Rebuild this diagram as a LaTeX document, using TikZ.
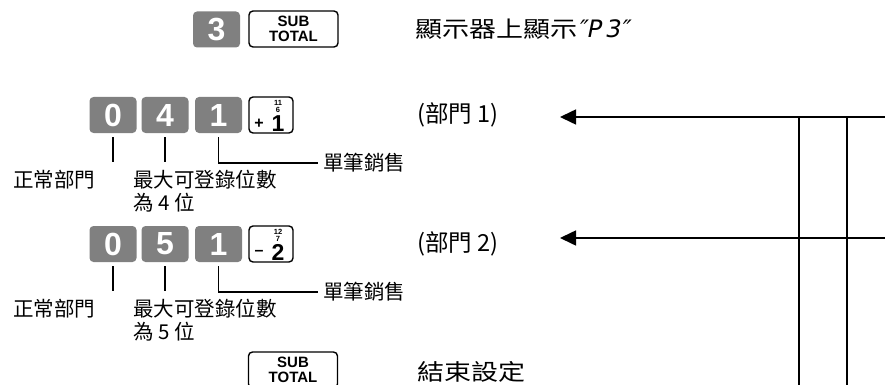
\documentclass[tikz,border=0pt]{standalone}
\usepackage{fontspec}
\usepackage{tikz}
\usetikzlibrary{arrows.meta}
\newfontfamily\cjk{Noto Sans CJK TC}
\newfontfamily\cjkwide[FakeStretch=1.2]{Noto Sans CJK TC}
\newfontfamily\keyfont{Liberation Sans}
\newfontfamily\segfont[FakeSlant=0.2]{DejaVu Sans}
\definecolor{keygray}{RGB}{128,128,128}

\tikzset{
  numkey/.style={fill=keygray, rounded corners=4pt, minimum width=47pt, minimum height=36pt,
    inner sep=0pt, text=white, font=\keyfont\bfseries\fontsize{32}{32}\selectfont},
  subkey/.style={draw, line width=1.4pt, rounded corners=4pt, minimum width=89pt, minimum height=36pt,
    inner sep=0pt, align=center, font=\keyfont\bfseries\fontsize{15}{15}\selectfont},
  deptbox/.style={draw, line width=1.4pt, rounded corners=4pt, minimum width=44pt, minimum height=36pt, inner sep=0pt},
  keymark/.style={inner sep=0pt, align=center, font=\keyfont\bfseries\fontsize{7.5}{7}\selectfont},
  note/.style={inner sep=0pt, anchor=west, font=\cjk\fontsize{20.5}{23}\selectfont},
  heading/.style={inner sep=0pt, anchor=west, font=\cjkwide\fontsize{22.5}{24}\selectfont},
  lead/.style={line width=1.6pt},
  feed/.style={line width=1.6pt, -{Triangle[length=16pt,width=15pt]}},
}

% department key: name, position, small numbers, sign, digit
\newcommand\deptkey[6]{%
  \node[deptbox] (#1) at (#2) {};
  \node[keymark] (#1-top) at ([shift={(7,-9)}]#1.center) {#3\\#4};
  \node[keymark, font=\keyfont\bfseries\fontsize{16}{16}\selectfont] (#1-sign) at ([shift={(-12,9)}]#1.center) {#5};
  \node[inner sep=0pt, font=\keyfont\bfseries\fontsize{23}{23}\selectfont] (#1-digit) at ([shift={(7,8.8)}]#1.center) {#6};
}

\begin{document}
\begin{tikzpicture}[x=1pt, y=-1pt]
  \useasboundingbox (0,0) rectangle (885,385);
  \clip (0,0) rectangle (885,385);

  % first step
  \node[numkey] (k3) at (216.5,29.5) {3};
  \node[subkey] (st1) at (293.5,29) {SUB\\TOTAL};
  \node[heading] (show) at (415,29) {顯示器上顯示{\segfont\fontsize{24}{24}\selectfont ″P\,3″}};

  % department 1
  \node[numkey] (k0a) at (113,115) {0};
  \node[numkey] (k4a) at (165,115) {4};
  \node[numkey] (k1a) at (218.5,115) {1};
  \deptkey{d1}{271,115}{11}{6}{+}{1}
  \node[note, font=\cjk\fontsize{23.5}{24}\selectfont] (dep1) at (417,115) {(部門 1)};
  \node[note] (norm1) at (13,180) {正常部門};
  \node[note, anchor=north west, align=left] (max1) at (133,170) {最大可登錄位數\\為 4 位};
  \node[note] (sale1) at (323,163) {單筆銷售};
  \draw[lead] ([yshift=-4pt]k0a.south) -- ++(0,25);
  \draw[lead] ([yshift=-4pt]k4a.south) -- ++(0,25);
  \draw[lead] ([yshift=-4pt]k1a.south) |- ([xshift=-5pt]sale1.west);

  % department 2
  \node[numkey] (k0b) at (113,244) {0};
  \node[numkey] (k5b) at (165,244) {5};
  \node[numkey] (k1b) at (218.5,244) {1};
  \deptkey{d2}{271,244}{12}{7}{\textendash}{2}
  \node[note, font=\cjk\fontsize{23.5}{24}\selectfont] (dep2) at (417,244) {(部門 2)};
  \node[note] (norm2) at (13,309) {正常部門};
  \node[note, anchor=north west, align=left] (max2) at (133,299) {最大可登錄位數\\為 5 位};
  \node[note] (sale2) at (323,292) {單筆銷售};
  \draw[lead] ([yshift=-4pt]k0b.south) -- ++(0,25);
  \draw[lead] ([yshift=-4pt]k5b.south) -- ++(0,25);
  \draw[lead] ([yshift=-4pt]k1b.south) |- ([xshift=-5pt]sale2.west);

  % end of setting
  \node[subkey] (st2) at (293,370) {SUB\\TOTAL};
  \node[heading] (finish) at (417,372) {結束設定};

  % feed lines from the right
  \coordinate (in1) at (890,117);
  \coordinate (tip1) at (560,117);
  \coordinate (in2) at (890,238);
  \coordinate (tip2) at (560,238);
  \coordinate (v1) at (799,117);
  \coordinate (v2) at (847,117);
  \draw[feed] (in1) -- (tip1);
  \draw[feed] (in2) -- (tip2);
  \draw[lead] (v1) -- (v1 |- 0,390);
  \draw[lead] (v2) -- (v2 |- 0,390);
\end{tikzpicture}
\end{document}
